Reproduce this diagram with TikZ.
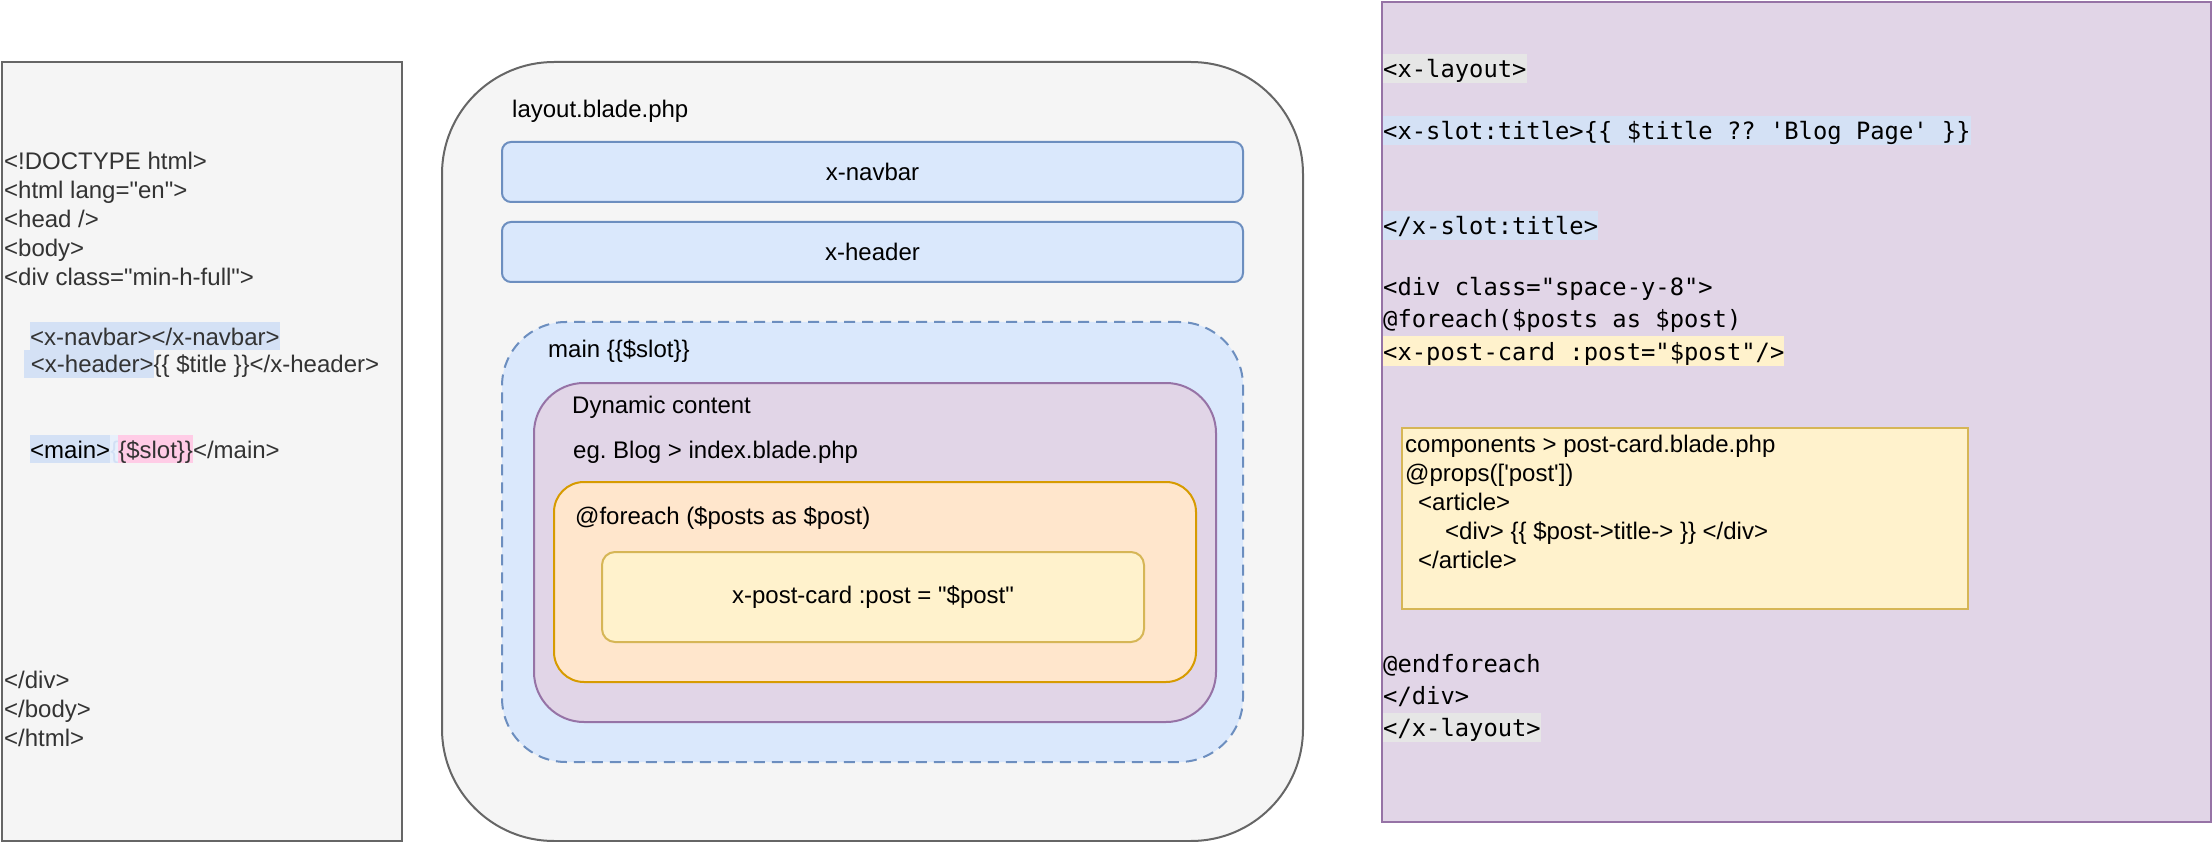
\documentclass[tikz,border=0pt]{standalone}
\usepackage{fontspec}
\setmainfont{Liberation Sans}
\newfontfamily\codefont{DejaVu Sans Mono}
\definecolor{grayfill}{HTML}{F5F5F5}
\definecolor{graystroke}{HTML}{666666}
\definecolor{bluefill}{HTML}{DAE8FC}
\definecolor{bluestroke}{HTML}{6C8EBF}
\definecolor{purplefill}{HTML}{E1D5E7}
\definecolor{purplestroke}{HTML}{9673A6}
\definecolor{orangefill}{HTML}{FFE6CC}
\definecolor{orangestroke}{HTML}{D79B00}
\definecolor{yellowfill}{HTML}{FFF2CC}
\definecolor{yellowstroke}{HTML}{D6B656}
\definecolor{hlblue}{HTML}{D4E1F5}
\definecolor{hlgray}{HTML}{E6E6E6}
\definecolor{hlpink}{HTML}{FFCCE6}
\definecolor{hlfaint}{HTML}{E8F0FB}
\definecolor{fainttext}{HTML}{D2E0F5}
\definecolor{darktext}{HTML}{333333}
\newcommand\hlb[2]{{\setlength{\fboxsep}{0pt}\colorbox{#1}{\rule[-5pt]{0pt}{28pt}#2}}}
\newcommand\dq{\textquotedbl}
\frenchspacing
\begin{document}
\begin{tikzpicture}[x=1pt,y=-1pt,
  shp/.style={draw, line width=2pt, inner sep=0pt, anchor=north west,
    font=\fontsize{24}{29}\selectfont},
  graybox/.style={shp, draw=graystroke, fill=grayfill},
  bluebox/.style={shp, draw=bluestroke, fill=bluefill},
  purplebox/.style={shp, draw=purplestroke, fill=purplefill},
  orangebox/.style={shp, draw=orangestroke, fill=orangefill},
  yellowbox/.style={shp, draw=yellowstroke, fill=yellowfill},
  txt/.style={anchor=base west, inner sep=0pt, font=\fontsize{24}{29}\selectfont},
  lefttxt/.style={txt, text=darktext},
  code/.style={anchor=base west, inner xsep=0pt, inner ysep=0pt,
    text height=23.5pt, text depth=5.5pt, font=\codefont\fontsize{23.8}{32}\selectfont},
]
\useasboundingbox (0,0) rectangle (2212,842);

% ---------------- left box ----------------
\node[graybox, minimum width=400pt, minimum height=779pt] (left) at (1,61) {};
\node[lefttxt] (l1) at (4,170) {<!DOCTYPE html>};
\node[lefttxt] (l2) at (4,199) {<html lang=\dq en\dq>};
\node[lefttxt] (l3) at (4,228) {<head />};
\node[lefttxt] (l4) at (4,257) {<body>};
\node[lefttxt] (l5) at (4,286) {<div class=\dq min-h-full\dq>};
\node[lefttxt] (l6) at (30,345) {\hlb{hlblue}{<x-navbar></x-navbar>}};
\node[lefttxt] (l7) at (24,373) {\hlb{hlblue}{\hspace*{6.7pt}<x-header>}\{\{ \$title \}\}</x-header>};
\node[lefttxt] (l8) at (30,458) {\hlb{hlblue}{\textcolor{black}{<main>}}\hlb{hlfaint}{\textcolor{fainttext}{\{}}\hlb{hlpink}{\{\$slot\}\}}</main>};
\node[lefttxt] (l9) at (4,688) {</div>};
\node[lefttxt] (l10) at (4,717) {</body>};
\node[lefttxt] (l11) at (4,746) {</html>};

% ---------------- middle ----------------
\node[graybox, rounded corners=112pt, minimum width=861pt, minimum height=779pt] (layout) at (441,61) {};
\node[txt] (tlayout) at (512,118) {layout.blade.php};
\node[bluebox, rounded corners=9pt, minimum width=741pt, minimum height=60pt] (navbar) at (501,141) {x-navbar};
\node[bluebox, rounded corners=9pt, minimum width=741pt, minimum height=60pt] (header) at (501,221) {x-header};
\node[bluebox, dash pattern=on 11pt off 7pt, rounded corners=64pt, minimum width=741pt, minimum height=440pt] (mainbox) at (501,321) {};
\node[txt] (tmain) at (548,358) {main \{\{\$slot\}\}};
\node[purplebox, rounded corners=50pt, minimum width=682pt, minimum height=339pt] (dyn) at (533,382) {};
\node[txt] (tdyn) at (572,413) {Dynamic content};
\node[txt] (tblog) at (573,458) {eg. Blog > index.blade.php};
\node[orangebox, rounded corners=30pt, minimum width=642pt, minimum height=200pt] (loop) at (553,481) {};
\node[txt] (tloop) at (575,524) {@foreach (\$posts as \$post)};
\node[yellowbox, rounded corners=13pt, minimum width=542pt, minimum height=90pt] (card) at (601,551) {x-post-card :post = \dq\$post\dq};

% ---------------- right box ----------------
\node[purplebox, minimum width=829pt, minimum height=820pt] (right) at (1381,1) {};
\node[code, fill=hlgray] (r1) at (1383,78) {<x-layout>};
\node[code, fill=hlblue] (r2) at (1383,140) {<x-slot:title>\{\{ \$title ?? \textquotesingle Blog Page\textquotesingle\ \}\}};
\node[code, fill=hlblue] (r3) at (1383,235) {</x-slot:title>};
\node[code] (r4) at (1383,296) {<div class="space-y-8">};
\node[code] (r5) at (1383,328) {@foreach(\$posts as \$post)};
\node[code, fill=yellowfill] (r6) at (1383,360) {<x-post-card :post="\$post"/>};
\node[code] (r7) at (1383,672) {@endforeach};
\node[code] (r8) at (1383,704) {</div>};
\node[code, fill=hlgray] (r9) at (1383,736) {</x-layout>};

\node[yellowbox, minimum width=566pt, minimum height=181pt] (postcard) at (1401,427) {};
\node[txt] (p1) at (1405,452) {components > post-card.blade.php};
\node[txt] (p2) at (1405,481) {@props([\textquotesingle post\textquotesingle])};
\node[txt] (p3) at (1418,510) {<article>};
\node[txt] (p4) at (1445,539) {<div> \{\{ \$post->title-> \}\} </div>};
\node[txt] (p5) at (1418,568) {</article>};
\end{tikzpicture}
\end{document}
